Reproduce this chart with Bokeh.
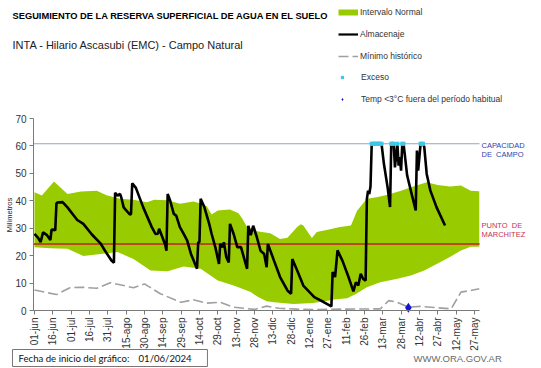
from math import pi
from bokeh.plotting import figure
from bokeh.models import FixedTicker, Label, Legend, LegendItem, Range1d
from bokeh.embed import file_html
from bokeh.resources import INLINE

# ---------------- data (day offsets from 01/06/2024) ----------------
tick_labels = ["01-jun", "16-jun", "01-jul", "16-jul", "31-jul", "15-ago", "30-ago",
               "14-sep", "29-sep", "14-oct", "29-oct", "13-nov", "28-nov", "13-dic",
               "28-dic", "12-ene", "27-ene", "11-feb", "26-feb", "13-mar", "28-mar",
               "12-abr", "27-abr", "12-may", "27-may"]
tick_step_days = 15

band_upper_days = [0, 6, 16, 27, 38, 51, 59, 70, 81, 92, 98, 109, 119, 130, 136, 141, 145,
                   150, 160, 167, 170, 174, 182, 193, 201, 207, 215, 218, 220, 227, 231,
                   240, 250, 259, 264, 272, 280, 289, 300, 310, 321, 330, 340, 349, 357, 364]
band_upper = [43.1, 41.9, 47.0, 42.5, 43.4, 43.7, 42.0, 40.7, 40.4, 39.5, 40.4, 40.2, 38.9,
              39.7, 39.0, 38.0, 35.0, 36.5, 36.8, 35.5, 33.5, 30.4, 28.9, 28.2, 26.1, 26.5,
              30.4, 31.4, 31.0, 26.4, 28.6, 29.4, 30.4, 31.0, 36.4, 40.7, 41.3, 42.2, 43.7,
              45.2, 46.8, 45.8, 45.2, 45.6, 43.7, 43.5]

band_lower_days = [0, 13, 27, 40, 54, 68, 81, 95, 109, 122, 136, 150, 163, 177, 183, 190,
                   196, 212, 228, 240, 245, 256, 263, 272, 283, 297, 308, 319, 330, 340,
                   349, 357, 364]
band_lower = [23.1, 22.7, 22.5, 19.9, 20.6, 21.3, 18.8, 14.6, 14.3, 16.0, 15.2, 10.9, 9.1,
              6.7, 4.9, 3.4, 3.0, 2.4, 2.7, 3.6, 4.0, 4.5, 6.0, 8.5, 10.3, 11.6, 12.8, 14.6,
              17.1, 19.5, 21.9, 23.2, 23.2]

storage_days = [0, 3, 5, 7, 10, 13, 14, 16, 17, 18, 19, 23, 27, 35, 40, 47, 54, 58, 63, 65,
                66, 68, 70, 71, 73, 78, 79, 80, 83, 89, 96, 99, 101, 102, 104, 107, 108, 109,
                111, 114, 116, 119, 122, 125, 128, 133, 134, 135, 136, 139, 143, 145, 148,
                151, 152, 154, 155, 157, 159, 160, 163, 166, 169, 174, 175, 177, 179, 182,
                185, 188, 190, 191, 196, 201, 207, 209, 210, 211, 215, 220, 229, 237, 243,
                244, 246, 248, 252, 257, 261, 263, 265, 267, 269, 271, 272, 273, 274, 275,
                276, 284, 286, 289, 291, 292, 294, 295, 297, 298, 299, 300, 301, 302, 303,
                305, 308, 312, 313, 314, 316, 317, 318, 319, 321, 324, 329, 336]
storage = [27.9, 26.5, 24.9, 28.5, 27.6, 25.7, 29.5, 29.4, 29.2, 39.1, 39.4, 39.5, 37.6,
           33.0, 31.6, 27.7, 24.5, 21.6, 18.2, 17.4, 42.9, 41.9, 42.5, 41.3, 37.6, 35.0,
           35.2, 46.4, 44.7, 37.6, 30.4, 27.9, 28.0, 29.8, 27.5, 24.0, 21.8, 42.5, 40.1,
           35.2, 34.6, 30.4, 28.0, 25.5, 20.7, 15.2, 24.9, 24.9, 40.7, 37.7, 31.6, 27.9,
           23.1, 17.0, 24.3, 23.1, 24.9, 19.4, 17.5, 31.6, 27.9, 23.1, 23.1, 15.2, 30.9,
           27.5, 30.9, 26.7, 21.8, 20.6, 15.8, 24.3, 18.2, 12.2, 7.3, 6.5, 6.1, 18.8, 14.6,
           9.1, 4.9, 3.0, 1.5, 14.0, 12.2, 21.9, 18.2, 12.2, 7.0, 10.3, 9.1, 13.4, 11.5,
           10.9, 40.5, 43.7, 42.5, 45.2, 60.8, 60.8, 53.4, 44.9, 37.7, 60.8, 60.8, 52.2,
           60.8, 52.8, 55.9, 51.0, 60.8, 60.8, 57.1, 49.2, 43.7, 36.5, 58.3, 51.0, 60.8,
           60.8, 60.8, 59.6, 49.8, 43.7, 37.7, 31.0]

min_days = [0, 4, 18, 29, 38, 51, 62, 73, 81, 90, 103, 120, 130, 141, 152, 163, 180, 190,
            200, 215, 230, 250, 283, 290, 297, 306, 316, 330, 341, 349, 357, 364]
min_hist = [7.5, 7.1, 5.8, 8.3, 8.5, 8.1, 10.1, 9.1, 8.3, 9.7, 6.1, 3.0, 3.9, 2.7, 3.0, 1.2,
            0.4, 1.6, 0.8, 0.5, 0.3, 0.5, 0.6, 3.6, 3.0, 1.2, 1.5, 1.0, 0.6, 6.7, 7.3, 7.9]

excess_days = [276, 277, 278, 279, 280, 281, 282, 283, 284, 292, 293, 294, 297, 301, 302,
               316, 317, 318]
excess_vals = [60.8] * len(excess_days)

frost_days = [306]
frost_vals = [1.0]

field_capacity = 60.8
wilting_point = 24.2

# ---------------- layout helpers ----------------
W, H = 541, 368                      # figure size; the figure sits at the page's top-left
PAGE_OFF = 0
FRAME_L, FRAME_B = 33, 310           # page pixels of the chart area left / bottom
X0, X1 = -0.8, 364.2                 # chart area in days
Y0, Y1 = 0, 70                       # chart area in mm
PX_DAY = 446 / (X1 - X0)
PX_MM = 192 / (Y1 - Y0)


def xd(px):
    return X0 + (px - FRAME_L) / PX_DAY


def yd(py):
    return (FRAME_B - py) / PX_MM


FONT = "Liberation Sans"
GREEN = "#99cc00"

p = figure(width=W, height=H, title=None,
           x_range=Range1d(xd(PAGE_OFF), xd(PAGE_OFF + W)),
           y_range=Range1d(yd(PAGE_OFF + H), yd(PAGE_OFF)),
           output_backend="svg", toolbar_location=None,
           min_border=0, min_border_left=0, min_border_right=0,
           min_border_top=0, min_border_bottom=0)
p.outline_line_color = None
p.xgrid.visible = False
p.ygrid.visible = False
p.background_fill_color = "white"
p.border_fill_color = "white"

# band
p.patch(band_upper_days + band_lower_days[::-1], band_upper + band_lower[::-1],
        fill_color=GREEN, line_color=None)

p.line([X0, X1], [field_capacity, field_capacity], line_color="#8ea5c8", line_width=1.2)
p.line([X0, X1], [wilting_point, wilting_point], line_color="#b84a1e", line_width=2)

r_min = p.line(min_days, min_hist, line_color="#a0a0a0", line_width=1.6, line_dash="10 4")
r_store = p.line(storage_days, storage, line_color="black", line_width=2.6)
r_exc = p.scatter(excess_days, excess_vals, marker="square", size=4,
                  fill_color="#3cc8e6", line_color=None)
r_frost = p.scatter(frost_days, frost_vals, marker="diamond", size=10,
                    fill_color="#1414d2", line_color=None)
# legend-only swatches: single-point lines draw nothing in the chart itself
r_band_leg = p.line(band_upper_days[:1], band_upper[:1], line_color=GREEN, line_width=6)
r_store_leg = p.line(storage_days[:1], storage[:1], line_color="black", line_width=2.2)

# axes, fixed at the chart area's edges
p.yaxis.fixed_location = X0
p.xaxis.fixed_location = Y0
p.yaxis.bounds = (Y0, Y1)
p.xaxis.bounds = (X0, X1)
p.yaxis.ticker = FixedTicker(ticks=list(range(Y0, Y1 + 1, 10)))
p.xaxis.ticker = FixedTicker(ticks=[i * tick_step_days for i in range(len(tick_labels))])
p.xaxis.major_label_overrides = {i * tick_step_days: t for i, t in enumerate(tick_labels)}
p.xaxis.major_label_orientation = pi / 2
for ax in (p.xaxis, p.yaxis):
    ax.axis_line_color = "#7a7a7a"
    ax.major_tick_line_color = "#7a7a7a"
    ax.minor_tick_line_color = None
    ax.major_tick_out = 4
    ax.major_tick_in = 0
    ax.major_label_text_font = FONT
    ax.major_label_text_font_size = "10px"
    ax.major_label_text_color = "#333333"
    ax.major_label_standoff = 3

LEG_X = 338
common = dict(orientation="vertical", padding=0, margin=0, label_text_font=FONT,
              label_text_font_size="8.5px", label_text_color="#333333",
              border_line_color=None, background_fill_alpha=0)
legend1 = Legend(items=[
    LegendItem(label="Intervalo Normal", renderers=[r_band_leg]),
    LegendItem(label="Almacenaje", renderers=[r_store_leg]),
    LegendItem(label="Mínimo histórico", renderers=[r_min]),
], location=(LEG_X - PAGE_OFF, PAGE_OFF + H - 67), glyph_width=20, glyph_height=22,
    label_height=22, spacing=0, label_standoff=2, **common)
legend2 = Legend(items=[
    LegendItem(label="Exceso", renderers=[r_exc]),
    LegendItem(label="Temp <3°C fuera del período habitual", renderers=[r_frost]),
], location=(LEG_X - PAGE_OFF, PAGE_OFF + H - 104), glyph_width=8, glyph_height=8,
    label_height=8, spacing=12, label_standoff=15, **common)
p.add_layout(legend1)
p.add_layout(legend2)


def lab(text, px, py, size, color="#222222", style="normal", align="left",
        angle=0, font=FONT, **kw):
    l = Label(x=xd(px), y=yd(py), text=text, text_font=font, text_font_size=size,
              text_color=color, text_font_style=style, text_align=align,
              text_baseline="middle", angle=angle, **kw)
    p.add_layout(l)
    return l


lab("SEGUIMIENTO DE LA RESERVA SUPERFICIAL DE AGUA EN EL SUELO", 12, 15.5, "9.3px",
    color="black", style="bold")
lab("INTA - Hilario Ascasubi (EMC) - Campo Natural", 12, 44, "11px", color="#222222")
lab("Milímetros", 8.5, 214.5, "7.5px", align="center", angle=pi / 2)
lab("CAPACIDAD", 481, 145, "7.5px", color="#3a3aa8")
lab("DE\u00a0\u00a0CAMPO", 481, 154, "7.5px", color="#3a3aa8")
lab("PUNTO\u00a0\u00a0DE", 481, 225, "7.5px", color="#c8324e")
lab("MARCHITEZ", 481, 233.5, "7.5px", color="#c8324e")

lab("Fecha de inicio del gráfico:", 12, 357.5, "9.6px", color="#111111", font="Lato",
    border_line_color="#7f7474", border_line_width=1, background_fill_color="white",
    padding=dict(left=6, right=78, top=3, bottom=3))
lab("01/06/2024", 138, 357.5, "9.6px", color="#111111", font="Lato")
lab("WWW.ORA.GOV.AR", 413, 358, "9.5px", color="#6a6a6a")

open("out.html", "w").write(file_html(p, INLINE))
